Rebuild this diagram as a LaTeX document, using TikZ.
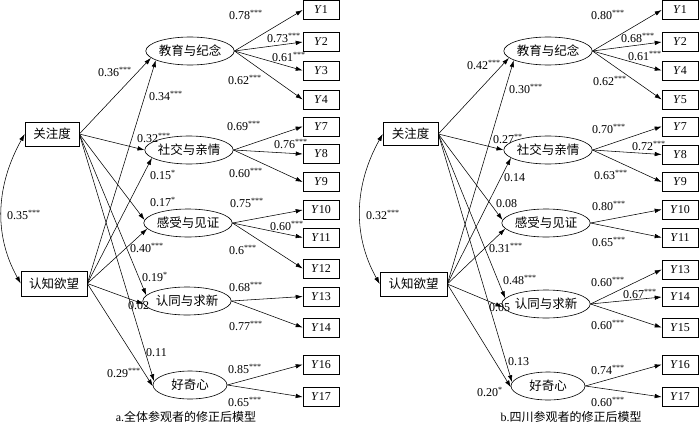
\documentclass[tikz,border=0pt]{standalone}
\usepackage{fontspec}
\setmainfont{Liberation Serif}
\newfontfamily\cjk{Noto Sans CJK SC}
\usetikzlibrary{shapes.geometric,arrows.meta}
\newcommand\sg[1]{\textsuperscript{#1}}
\begin{document}
\begin{tikzpicture}[x=1pt,y=-1pt,
 every node/.style={font=\fontsize{12}{14}\selectfont},
 lat/.style={draw, ellipse, minimum width=74pt, minimum height=28pt, inner sep=0pt, line width=0.6pt, font=\cjk\fontsize{12.5}{14}\selectfont},
 obs/.style={draw, rectangle, minimum width=36pt, minimum height=19pt, inner sep=0pt, line width=0.6pt},
 exo/.style={draw, rectangle, inner sep=0pt, line width=0.6pt, font=\cjk\fontsize{12.5}{14}\selectfont},
 arr/.style={-{Latex[length=7pt,width=4.5pt]}, line width=0.55pt},
 cov/.style={{Latex[length=7pt,width=4.5pt]}-{Latex[length=7pt,width=4.5pt]}, line width=0.55pt},
 lab/.style={anchor=west, inner sep=0pt},
 captext/.style={inner sep=0pt, font=\fontsize{12}{14}\selectfont}]
\useasboundingbox (0,0) rectangle (700,433);

% ================= Panel a =================
\node[exo, minimum width=54pt, minimum height=24pt] (gzA) at (52,134) {关注度};
\node[exo, minimum width=66pt, minimum height=25pt] (rzA) at (54,283.5) {认知欲望};
\node[lat] (jyA) at (190,51) {教育与纪念};
\node[lat] (sjA) at (189,150) {社交与亲情};
\node[lat] (gsA) at (188,223) {感受与见证};
\node[lat] (rtA) at (187,301) {认同与求新};
\node[lat] (hqA) at (190,385) {好奇心};

\node[obs] (A1) at (321,10) {\textit{Y}1};
\node[obs] (A2) at (321,42) {\textit{Y}2};
\node[obs] (A3) at (321,70.5) {\textit{Y}3};
\node[obs] (A4) at (321,99.5) {\textit{Y}4};
\node[obs] (A7) at (321,126.5) {\textit{Y}7};
\node[obs] (A8) at (321,154) {\textit{Y}8};
\node[obs] (A9) at (321,182) {\textit{Y}9};
\node[obs] (A10) at (321,210) {\textit{Y}10};
\node[obs] (A11) at (321,237.5) {\textit{Y}11};
\node[obs] (A12) at (321,268.5) {\textit{Y}12};
\node[obs] (A13) at (321,296.5) {\textit{Y}13};
\node[obs] (A14) at (321,327.5) {\textit{Y}14};
\node[obs] (A16) at (321,364.5) {\textit{Y}16};
\node[obs] (A17) at (321,397) {\textit{Y}17};

\draw[cov] (gzA.west) .. controls +(-28,50) and +(-28,-50) .. (rzA.west);

\draw[arr] (gzA.east) -- (jyA.190);
\draw[arr] (rzA.east) -- (jyA.195);
\draw[arr] (gzA.east) -- (sjA.180);
\draw[arr] (rzA.east) -- (sjA.192);
\draw[arr] (gzA.east) -- (gsA.176);
\draw[arr] (rzA.east) -- (gsA.188);
\draw[arr] (gzA.east) -- (rtA.172);
\draw[arr] (rzA.east) -- (rtA.184);
\draw[arr] (gzA.east) -- (hqA.174);
\draw[arr] (rzA.east) -- (hqA.182);

\foreach \t in {1,2,3,4} \draw[arr] (jyA.east) -- (A\t.west);
\foreach \t in {7,8,9} \draw[arr] (sjA.east) -- (A\t.west);
\foreach \t in {10,11,12} \draw[arr] (gsA.east) -- (A\t.west);
\foreach \t in {13,14} \draw[arr] (rtA.east) -- (A\t.west);
\foreach \t in {16,17} \draw[arr] (hqA.east) -- (A\t.west);

\node[lab] (pa1) at (7,215) {0.35\sg{***}};
\node[lab] (pa2) at (98,72) {0.36\sg{***}};
\node[lab] (pa3) at (149,96) {0.34\sg{***}};
\node[lab] (pa4) at (137,138) {0.32\sg{***}};
\node[lab] (pa5) at (150,175) {0.15\sg{*}};
\node[lab] (pa6) at (150,202) {0.17\sg{*}};
\node[lab] (pa7) at (130,248) {0.40\sg{***}};
\node[lab] (pa8) at (142,277) {0.19\sg{*}};
\node[lab] (pa9) at (128,306) {0.02};
\node[lab] (pa10) at (146,353) {0.11};
\node[lab] (pa11) at (107,373) {0.29\sg{***}};

\node[lab] (ma1) at (229,15) {0.78\sg{***}};
\node[lab] (ma2) at (267,38) {0.73\sg{***}};
\node[lab] (ma3) at (272,57) {0.61\sg{***}};
\node[lab] (ma4) at (228,80) {0.62\sg{***}};
\node[lab] (ma5) at (227,126) {0.69\sg{***}};
\node[lab] (ma6) at (274,144) {0.76\sg{***}};
\node[lab] (ma7) at (229,173) {0.60\sg{***}};
\node[lab] (ma8) at (230,203) {0.75\sg{***}};
\node[lab] (ma9) at (270,226) {0.60\sg{***}};
\node[lab] (ma10) at (229,250) {0.6\sg{***}};
\node[lab] (ma11) at (229,287) {0.68\sg{***}};
\node[lab] (ma12) at (229,326) {0.77\sg{***}};
\node[lab] (ma13) at (228,369) {0.85\sg{***}};
\node[lab] (ma14) at (228,402) {0.65\sg{***}};

\node[captext] (capA) at (186,417) {a.{\cjk 全体参观者的修正后模型}};

% ================= Panel b =================
\node[exo, minimum width=55pt, minimum height=23pt] (gzB) at (410.5,134) {关注度};
\node[exo, minimum width=67pt, minimum height=24pt] (rzB) at (413.5,284) {认知欲望};
\node[lat] (jyB) at (548,51) {教育与纪念};
\node[lat] (sjB) at (548,150) {社交与亲情};
\node[lat] (gsB) at (546,223) {感受与见证};
\node[lat] (rtB) at (546,304) {认同与求新};
\node[lat] (hqB) at (548,386) {好奇心};

\node[obs] (B1) at (680,10) {\textit{Y}1};
\node[obs] (B2) at (680,42) {\textit{Y}2};
\node[obs] (B4) at (680,70.5) {\textit{Y}4};
\node[obs] (B5) at (680,99.5) {\textit{Y}5};
\node[obs] (B7) at (680,126.5) {\textit{Y}7};
\node[obs] (B8) at (680,154.5) {\textit{Y}8};
\node[obs] (B9) at (680,182) {\textit{Y}9};
\node[obs] (B10) at (680,209.5) {\textit{Y}10};
\node[obs] (B11) at (680,237.5) {\textit{Y}11};
\node[obs] (B13) at (680,269.5) {\textit{Y}13};
\node[obs] (B14) at (680,297) {\textit{Y}14};
\node[obs] (B15) at (680,327.5) {\textit{Y}15};
\node[obs] (B16) at (680,364.5) {\textit{Y}16};
\node[obs] (B17) at (680,397) {\textit{Y}17};

\draw[cov] (gzB.west) .. controls +(-28,50) and +(-28,-50) .. (rzB.west);

\draw[arr] (gzB.east) -- (jyB.190);
\draw[arr] (rzB.east) -- (jyB.195);
\draw[arr] (gzB.east) -- (sjB.180);
\draw[arr] (rzB.east) -- (sjB.192);
\draw[arr] (gzB.east) -- (gsB.176);
\draw[arr] (rzB.east) -- (gsB.188);
\draw[arr] (gzB.east) -- (rtB.172);
\draw[arr] (rzB.east) -- (rtB.184);
\draw[arr] (gzB.east) -- (hqB.174);
\draw[arr] (rzB.east) -- (hqB.182);

\foreach \t in {1,2,4,5} \draw[arr] (jyB.east) -- (B\t.west);
\foreach \t in {7,8,9} \draw[arr] (sjB.east) -- (B\t.west);
\foreach \t in {10,11} \draw[arr] (gsB.east) -- (B\t.west);
\foreach \t in {13,14,15} \draw[arr] (rtB.east) -- (B\t.west);
\foreach \t in {16,17} \draw[arr] (hqB.east) -- (B\t.west);

\node[lab] (pb1) at (366,215) {0.32\sg{***}};
\node[lab] (pb2) at (467,65) {0.42\sg{***}};
\node[lab] (pb3) at (509,89) {0.30\sg{***}};
\node[lab] (pb4) at (493,139) {0.27\sg{**}};
\node[lab] (pb5) at (504,178) {0.14};
\node[lab] (pb6) at (496,204) {0.08};
\node[lab] (pb7) at (489,248) {0.31\sg{***}};
\node[lab] (pb8) at (503,280) {0.48\sg{***}};
\node[lab] (pb9) at (489,308) {0.05};
\node[lab] (pb10) at (508,362) {0.13};
\node[lab] (pb11) at (477,392) {0.20\sg{*}};

\node[lab] (mb1) at (591,15) {0.80\sg{***}};
\node[lab] (mb2) at (621,38) {0.68\sg{***}};
\node[lab] (mb3) at (628,56) {0.61\sg{***}};
\node[lab] (mb4) at (593,81) {0.62\sg{***}};
\node[lab] (mb5) at (592,129) {0.70\sg{***}};
\node[lab] (mb6) at (632,146) {0.72\sg{***}};
\node[lab] (mb7) at (594,175) {0.63\sg{***}};
\node[lab] (mb8) at (592,206) {0.80\sg{***}};
\node[lab] (mb9) at (592,242) {0.65\sg{***}};
\node[lab] (mb10) at (591,282) {0.60\sg{***}};
\node[lab] (mb11) at (623,294) {0.67\sg{***}};
\node[lab] (mb12) at (591,325) {0.60\sg{***}};
\node[lab] (mb13) at (591,370) {0.74\sg{***}};
\node[lab] (mb14) at (591,402) {0.60\sg{***}};

\node[captext] (capB) at (571,417) {b.{\cjk 四川参观者的修正后模型}};
\end{tikzpicture}
\end{document}
